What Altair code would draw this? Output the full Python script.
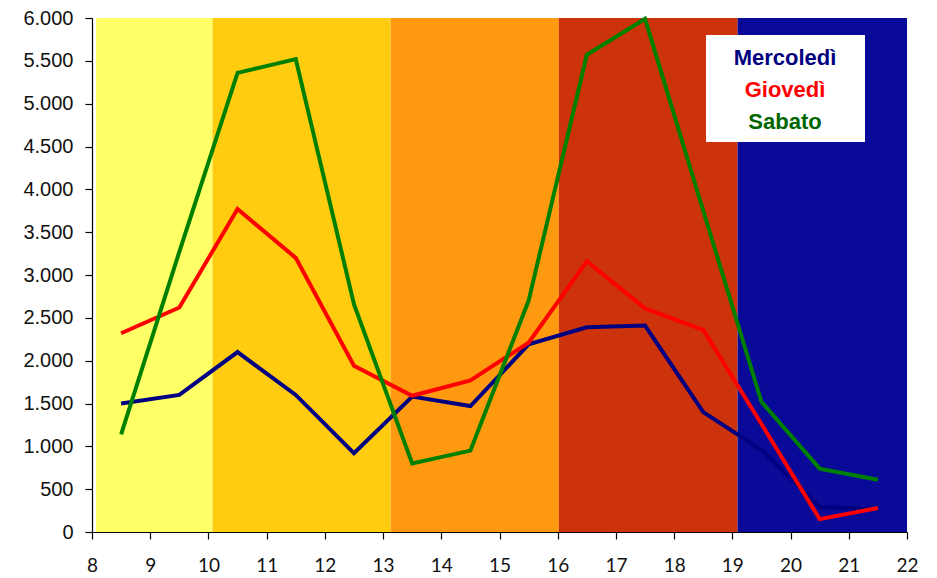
import altair as alt
import pandas as pd

hours = [8.5, 9.5, 10.5, 11.5, 12.5, 13.5, 14.5, 15.5, 16.5, 17.5, 18.5, 19.5, 20.5, 21.5]
mercoledi = [1500, 1600, 2100, 1600, 920, 1580, 1470, 2190, 2390, 2410, 1400, 955, 290, 270]
giovedi = [2320, 2620, 3770, 3200, 1940, 1590, 1770, 2210, 3160, 2610, 2360, 1260, 150, 280]
sabato = [1140, 3270, 5360, 5520, 2660, 800, 950, 2700, 5570, 5990, 3750, 1520, 740, 610]

series_names = ["Mercoledì", "Giovedì", "Sabato"]
series_colors = ["#000080", "#FF0000", "#008000"]
label_colors = ["#000080", "#FF0000", "#006600"]

band_start = [8.07, 10.07, 13.13, 16.02, 19.09]
band_end = [10.07, 13.13, 16.02, 19.09, 22.0]
band_colors = ["#FFFF66", "#FFCC0F", "#FF9910", "#CC330A", "#0A0A99"]

x_ticks = list(range(8, 23))
y_ticks = list(range(0, 6001, 500))

bands = pd.DataFrame({"x": band_start, "x2": band_end, "c": band_colors,
                      "y": [0] * 5, "y2": [6000] * 5})

xs = alt.Scale(domain=[8, 22], nice=False, zero=False)
ys = alt.Scale(domain=[0, 6000], nice=False)

band_layer = alt.Chart(bands).mark_rect().encode(
    x=alt.X("x:Q", scale=xs, axis=alt.Axis(values=x_ticks, title=None, grid=False, format="d",
                                            labelFont="Lato", labelFontSize=19,
                                            labelColor="#111", labelPadding=17,
                                            tickSize=7, tickColor="black", labelFlush=False,
                                            domainColor="black", tickWidth=1.2, domainWidth=1.2)),
    x2="x2:Q",
    y=alt.Y("y:Q", scale=ys, axis=alt.Axis(values=y_ticks, title=None, grid=False,
                                            labelExpr="replace(format(datum.value, ','), ',', '.')",
                                            labelFont="Liberation Sans", labelFontSize=20,
                                            labelColor="#111", labelPadding=12,
                                            tickSize=7, tickColor="black", labelFlush=False,
                                            domainColor="black", tickWidth=1.2, domainWidth=1.2)),
    y2="y2:Q",
    color=alt.Color("c:N", scale=None),
)

layers = [band_layer]
for name, vals, col in zip(series_names, [mercoledi, giovedi, sabato], series_colors):
    df = pd.DataFrame({"ora": hours, "valore": vals})
    layers.append(
        alt.Chart(df).mark_line(color=col, strokeWidth=4, strokeJoin="miter").encode(
            x=alt.X("ora:Q", scale=xs),
            y=alt.Y("valore:Q", scale=ys),
        )
    )

# legend box
box = alt.Chart(pd.DataFrame({"a": [0]})).mark_rect(color="white").encode(
    x=alt.value(614), x2=alt.value(773), y=alt.value(17), y2=alt.value(124)
)
layers.append(box)
for i, (name, col) in enumerate(zip(series_names, label_colors)):
    layers.append(
        alt.Chart(pd.DataFrame({"t": [name]})).mark_text(
            font="Liberation Sans", fontWeight="bold", fontSize=22, color=col,
            align="center", baseline="middle"
        ).encode(text="t:N", x=alt.value(693), y=alt.value(40 + 32 * i))
    )

chart = alt.layer(*layers).properties(
    width=815, height=514,
    autosize=alt.AutoSizeParams(type="none"),
    padding={"left": 84, "top": 10, "right": 14, "bottom": 46},
    background="white",
).configure_view(stroke=None)

chart.save("out.html", embed_options={"renderer": "svg", "actions": False})
